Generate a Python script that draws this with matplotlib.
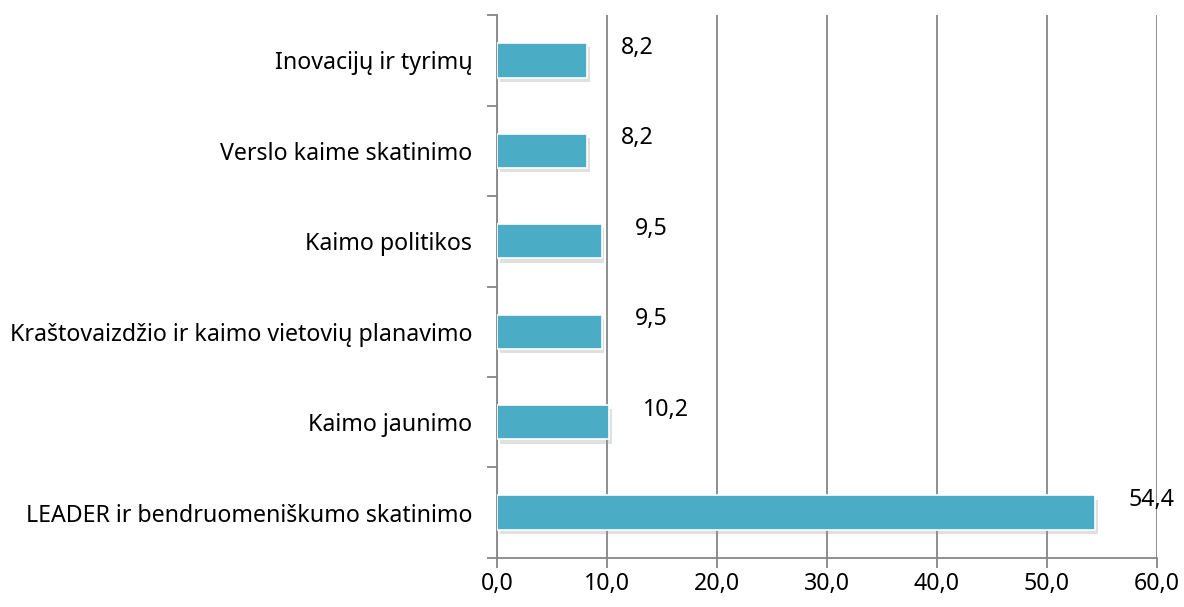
import matplotlib
matplotlib.use("Agg")
import matplotlib.pyplot as plt
import matplotlib.patheffects as pe

# Dados
categorias = [
    "LEADER ir bendruomeniškumo skatinimo",
    "Kaimo jaunimo",
    "Kraštovaizdžio ir kaimo vietovių planavimo",
    "Kaimo politikos",
    "Verslo kaime skatinimo",
    "Inovacijų ir tyrimų",
]
valores = [54.4, 10.2, 9.5, 9.5, 8.2, 8.2]
xticks = [0, 10, 20, 30, 40, 50, 60]

plt.rcParams["font.family"] = ["Noto Sans", "DejaVu Sans"]

fig = plt.figure(figsize=(11.84, 6.07), dpi=100)
ax = fig.add_axes([0.42, 0.081, 0.557, 0.894])

pos = list(range(len(categorias)))
barras = ax.barh(pos, valores, height=0.38, color="#4BACC6",
                 edgecolor="white", linewidth=1.2, zorder=3)
for b in barras:
    b.set_path_effects([pe.SimplePatchShadow(offset=(2, -3), shadow_rgbFace="#999999", alpha=0.3),
                        pe.Normal()])

for p, v in zip(pos, valores):
    ax.annotate(f"{v:.1f}".replace(".", ","), (v, p), xytext=(24, 9),
                textcoords="offset points", ha="left", va="center", fontsize=16.7)

ax.set_xlim(0, 60)
ax.set_ylim(-0.5, len(categorias) - 0.5)
ax.set_xticks(xticks)
ax.set_xticklabels([f"{t:.1f}".replace(".", ",") for t in xticks], fontsize=16.7)
ax.set_yticks(pos)
ax.set_yticklabels(categorias, fontsize=16.7)
ax.set_yticks([p - 0.5 for p in pos] + [len(pos) - 0.5], minor=True)
ax.tick_params(axis="y", which="major", length=0, pad=18)
ax.tick_params(axis="y", which="minor", length=7, color="#868686", width=1.3)
ax.tick_params(axis="x", length=7, color="#868686", width=1.3, pad=3)

ax.grid(axis="x", color="#868686", linewidth=1.3, zorder=0)
for s in ["top", "right"]:
    ax.spines[s].set_visible(False)
for s in ["left", "bottom"]:
    ax.spines[s].set_color("#868686")
    ax.spines[s].set_linewidth(1.3)

fig.savefig("out.png", dpi=100)
